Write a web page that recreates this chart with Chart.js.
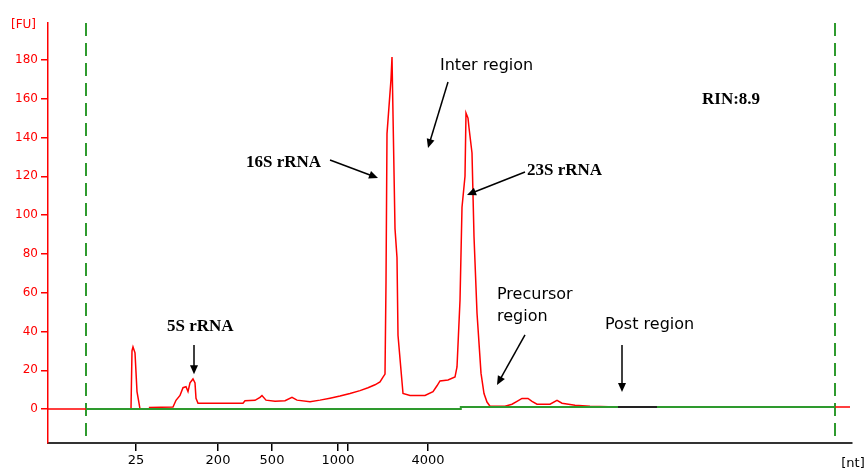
<!DOCTYPE html>
<html>
<head>
<meta charset="utf-8">
<script src="https://cdn.jsdelivr.net/npm/chart.js@4"></script>
<style>
  html, body { margin: 0; padding: 0; background: #fff; }
  #wrap { width: 865px; height: 471px; position: relative; }
</style>
</head>
<body>
<div id="wrap"><canvas id="electro"></canvas></div>
<script>
// migration position (arbitrary time units) and fluorescence [FU]
const traceTime = [0, 10.375, 10.5, 10.625, 10.875, 11.125, 11.375, 11.5, 12.625, 12.7, 15.625, 16.0, 16.5, 16.875, 17.25, 17.5, 17.75, 18.125, 18.375, 18.5, 18.75,
  24.375, 24.625, 25.875, 26.5, 26.75, 27.25, 28.375, 29.625, 30.5, 31.125, 32.75, 34.0, 35.25, 36.5, 37.75, 39.0, 40.0, 40.875, 41.5, 41.875, 42.125,
  42.25, 42.375, 42.75, 42.875, 43.0, 43.125, 43.375, 43.625, 43.75, 44.125, 44.375, 45.25, 47.125, 48.125, 48.625, 49.0, 50.0, 50.875,
  51.125, 51.5, 51.75, 52.125, 52.25, 52.5, 52.625, 53.0, 53.25, 53.625, 54.125, 54.5, 54.875, 55.25, 57.125, 58.0, 58.625, 59.25, 60.0,
  60.5, 61.125, 62.75, 63.625, 64.25, 65.875, 67.75, 69.0, 71.125, 71.25, 100.25];
const traceFU = [0, 0, 30, 32, 29, 9, 3, 0, 0, 0.8, 1, 4.5, 7, 11, 11.5, 9, 13.5, 15.5, 13.5, 5.5, 3,
  3, 4.3, 4.5, 6, 7, 4.6, 4, 4.3, 6, 4.6, 3.8, 4.6, 5.6, 6.7, 8, 9.5, 11, 12.5, 14, 16.5, 18,
  65, 142, 163, 170, 181.5, 152, 93, 78, 38, 20, 8, 7, 7, 9, 12, 14.5, 15, 16.5,
  21.7, 56, 104, 120, 152.6, 150, 145, 132, 89, 49.5, 18.5, 8, 3.6, 1.5, 1.5, 2.5, 4, 5.5, 5.5,
  4, 2.5, 2.5, 4.5, 3, 2, 1.5, 1.3, 1.1, 1, 1];

const baselineTime = [4.75, 51.5, 51.6, 98.4];
const baselineFU = [0, 0, 1, 1];

const tailTime = [71.25, 76.125];
const tailFU = [1, 1];

const ladderTimes = [11.0, 21.25, 28.0, 36.25, 37.5, 47.5];
const ladderLabels = ['25', '200', '500', '1000', '', '4000'];
const fuTicks = [0, 20, 40, 60, 80, 100, 120, 140, 160, 180];
const markerTimes = [4.75, 98.4];

const RED = '#ff0000';
const GREEN = '#2e9a2e';

const notes = [
  { text: ['Inter region'], x: 49.0, y: 177, font: '16px "DejaVu Sans"', arrow: [50.0, 168.6, 47.5, 134.6] },
  { text: ['16S rRNA'], x: 24.75, y: 127, font: 'bold 17px "Liberation Serif"', arrow: [35.25, 128.4, 41.25, 119.1] },
  { text: ['23S rRNA'], x: 59.875, y: 123, font: 'bold 17px "Liberation Serif"', arrow: [59.625, 122.2, 52.375, 110.4] },
  { text: ['RIN:8.9'], x: 81.75, y: 159.4, font: 'bold 17px "Liberation Serif"', arrow: null },
  { text: ['5S rRNA'], x: 14.875, y: 42.3, font: 'bold 17px "Liberation Serif"', arrow: [18.25, 33, 18.25, 18] },
  { text: ['Precursor', 'region'], x: 56.125, y: 58.8, font: '16px "DejaVu Sans"', arrow: [59.625, 38.2, 56.125, 12.4] },
  { text: ['Post region'], x: 69.625, y: 43.3, font: '16px "DejaVu Sans"', arrow: [71.75, 33, 71.75, 8.8] }
];

const overlay = {
  id: 'overlay',
  beforeDatasetsDraw(chart) {
    const { ctx, chartArea: a, scales: { x } } = chart;
    ctx.save();
    ctx.strokeStyle = GREEN;
    ctx.lineWidth = 2;
    ctx.setLineDash([13, 7]);
    markerTimes.forEach(t => {
      const px = Math.round(x.getPixelForValue(t));
      ctx.beginPath();
      ctx.moveTo(px, a.top);
      ctx.lineTo(px, a.bottom);
      ctx.stroke();
    });
    ctx.restore();
  },
  afterDraw(chart) {
    const { ctx, scales: { x, y } } = chart;
    ctx.save();
    ctx.fillStyle = RED;
    ctx.font = '12px "DejaVu Sans"';
    ctx.textBaseline = 'middle';
    ctx.textAlign = 'left';
    ctx.fillText('[FU]', 11, 25);
    ctx.fillStyle = '#000';
    ctx.font = '13px "DejaVu Sans"';
    ctx.textAlign = 'center';
    ctx.fillText('[nt]', 853, 464);

    notes.forEach(n => {
      ctx.font = n.font;
      ctx.fillStyle = '#000';
      ctx.textAlign = 'left';
      ctx.textBaseline = 'middle';
      const tx = x.getPixelForValue(n.x);
      const ty = y.getPixelForValue(n.y);
      n.text.forEach((line, i) => ctx.fillText(line, tx, ty + i * 22));
      if (n.arrow) {
        const x1 = x.getPixelForValue(n.arrow[0]), y1 = y.getPixelForValue(n.arrow[1]);
        const x2 = x.getPixelForValue(n.arrow[2]), y2 = y.getPixelForValue(n.arrow[3]);
        const ang = Math.atan2(y2 - y1, x2 - x1);
        const hl = 9, hw = 4;
        ctx.strokeStyle = '#000';
        ctx.lineWidth = 1.5;
        ctx.beginPath();
        ctx.moveTo(x1, y1);
        ctx.lineTo(x2 - Math.cos(ang) * hl * 0.8, y2 - Math.sin(ang) * hl * 0.8);
        ctx.stroke();
        ctx.beginPath();
        ctx.moveTo(x2, y2);
        ctx.lineTo(x2 - Math.cos(ang) * hl - Math.sin(ang) * hw, y2 - Math.sin(ang) * hl + Math.cos(ang) * hw);
        ctx.lineTo(x2 - Math.cos(ang) * hl + Math.sin(ang) * hw, y2 - Math.sin(ang) * hl - Math.cos(ang) * hw);
        ctx.closePath();
        ctx.fill();
      }
    });
    ctx.restore();
  }
};

const toPoints = (xs, ys) => xs.map((t, i) => ({ x: t, y: ys[i] }));

new Chart(document.getElementById('electro'), {
  type: 'line',
  data: {
    datasets: [
      { label: 'tail', data: toPoints(tailTime, tailFU), borderColor: '#222', borderWidth: 2, pointRadius: 0 },
      { label: 'baseline', data: toPoints(baselineTime, baselineFU), borderColor: GREEN, borderWidth: 2, pointRadius: 0 },
      { label: 'sample', data: toPoints(traceTime, traceFU), borderColor: RED, borderWidth: 1.5, pointRadius: 0 }
    ]
  },
  options: {
    responsive: true,
    maintainAspectRatio: false,
    animation: false,
    layout: { padding: { top: 23, right: 13, left: 0, bottom: 0 } },
    plugins: { legend: { display: false }, tooltip: { enabled: false } },
    scales: {
      x: {
        type: 'linear',
        min: 0,
        max: 100.5,
        afterBuildTicks: s => { s.ticks = ladderTimes.map(v => ({ value: v })); },
        afterFit: s => { s.height = 28; s.paddingLeft = 0; s.paddingRight = 0; },
        ticks: {
          autoSkip: false,
          maxRotation: 0,
          padding: 2,
          color: '#000',
          font: { family: 'DejaVu Sans', size: 13 },
          callback: (v, i) => ladderLabels[i]
        },
        grid: { drawOnChartArea: false, drawTicks: true, tickLength: 8, color: '#000', lineWidth: 1.5 },
        border: { display: true, color: '#333', width: 2 }
      },
      y: {
        min: -17.5,
        max: 199,
        afterBuildTicks: s => { s.ticks = fuTicks.map(v => ({ value: v })); },
        afterFit: s => { s.width = 48; s.paddingTop = 0; s.paddingBottom = 0; },
        ticks: {
          autoSkip: false,
          padding: 3,
          color: RED,
          font: { family: 'DejaVu Sans', size: 12 }
        },
        grid: { drawOnChartArea: false, drawTicks: true, tickLength: 7, color: RED, lineWidth: 1.5 },
        border: { display: true, color: RED, width: 1.5 }
      }
    }
  },
  plugins: [overlay]
});
</script>
</body>
</html>
